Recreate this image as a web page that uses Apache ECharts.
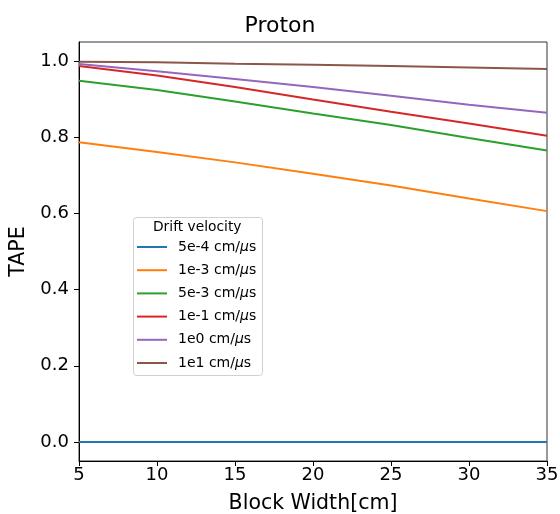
<!DOCTYPE html>
<html>
<head>
<meta charset="utf-8">
<script src="https://cdn.jsdelivr.net/npm/echarts@6/dist/echarts.min.js"></script>
<style>
  html, body { margin: 0; padding: 0; background: #fff; }
  #chart { width: 560px; height: 514px; }
</style>
</head>
<body>
<div id="chart"></div>
<script>
// Block widths in cm
const blockWidths = [5, 10, 15, 20, 25, 30, 35];

// TAPE per drift velocity
const tape5em4 = [0, 0, 0, 0, 0, 0, 0];
const tape1em3 = [0.787, 0.761, 0.734, 0.704, 0.673, 0.639, 0.606];
const tape5em3 = [0.948, 0.924, 0.894, 0.862, 0.832, 0.798, 0.765];
const tape1em1 = [0.987, 0.962, 0.932, 0.899, 0.867, 0.836, 0.804];
const tape1e0  = [0.992, 0.973, 0.953, 0.932, 0.909, 0.885, 0.864];
const tape1e1  = [0.998, 0.9966, 0.993, 0.990, 0.987, 0.983, 0.979];

const seriesNames = ['5e-4 cm/\u03bcs', '1e-3 cm/\u03bcs', '5e-3 cm/\u03bcs',
                     '1e-1 cm/\u03bcs', '1e0 cm/\u03bcs', '1e1 cm/\u03bcs'];
const seriesValues = [tape5em4, tape1em3, tape5em3, tape1em1, tape1e0, tape1e1];
const colors = ['#1f77b4', '#ff7f0e', '#2ca02c', '#d62728', '#9467bd', '#8c564b'];

const yTicks = [0, 0.2, 0.4, 0.6, 0.8, 1.0];

const font = 'DejaVu Sans';

const chart = echarts.init(document.getElementById('chart'), null, { renderer: 'canvas' });

chart.setOption({
  animation: false,
  backgroundColor: '#fff',
  color: colors,
  textStyle: { fontFamily: font },
  title: {
    text: 'Proton',
    left: 'center',
    top: 10,
    textStyle: { fontFamily: font, fontSize: 22, fontWeight: 'normal', color: '#000' }
  },
  grid: {
    left: 79, right: 13, top: 42, bottom: 53,
    outerBoundsMode: 'none',
    containLabel: false,
    show: true, borderColor: '#333', borderWidth: 1, backgroundColor: 'transparent'
  },
  xAxis: {
    type: 'value',
    min: 5, max: 35, interval: 5,
    name: 'Block Width[cm]',
    nameLocation: 'middle',
    nameGap: 32,
    nameTextStyle: { fontFamily: font, fontSize: 20.5, color: '#000' },
    axisLine: { show: true, onZero: false, lineStyle: { color: '#000', width: 1 } },
    axisTick: { show: true, length: 5, inside: false, lineStyle: { color: '#000', width: 1 } },
    axisLabel: { fontFamily: font, fontSize: 18, color: '#000', margin: 5 },
    splitLine: { show: false }
  },
  yAxis: {
    type: 'value',
    min: -0.05, max: 1.05,
    name: 'TAPE',
    nameLocation: 'middle',
    nameGap: 50,
    nameTextStyle: { fontFamily: font, fontSize: 20.5, color: '#000' },
    axisLine: { show: true, onZero: false, lineStyle: { color: '#000', width: 1 } },
    axisTick: { show: true, length: 5, inside: false, customValues: yTicks, lineStyle: { color: '#000', width: 1 } },
    axisLabel: {
      fontFamily: font, fontSize: 18, color: '#000', margin: 10,
      customValues: yTicks,
      formatter: v => v.toFixed(1)
    },
    splitLine: { show: false }
  },
  legend: {
    orient: 'vertical',
    left: 137,
    top: 240,
    padding: 0,
    itemWidth: 30,
    itemHeight: 2,
    itemGap: 9.2,
    icon: 'rect',
    // the micro sign is set in italic, like a math symbol
    formatter: name => name.replace('\u03bc', '{mu|\u03bc}'),
    textStyle: {
      fontFamily: font, fontSize: 14, color: '#000', padding: [0, 0, 0, 6],
      rich: { mu: { fontFamily: font, fontSize: 14, fontStyle: 'italic', color: '#000' } }
    },
    data: seriesNames
  },
  graphic: [
    {
      type: 'rect',
      left: 133, top: 217,
      shape: { width: 129, height: 158, r: 3 },
      style: { fill: 'rgba(255,255,255,0.8)', stroke: '#d0d0d0', lineWidth: 1 },
      z: 0
    },
    {
      type: 'text',
      left: 153, top: 220,
      style: { text: 'Drift velocity', fontFamily: font, fontSize: 13.8, fill: '#000' },
      z: 1
    }
  ],
  series: seriesNames.map((name, i) => ({
    name: name,
    type: 'line',
    data: blockWidths.map((x, j) => [x, seriesValues[i][j]]),
    showSymbol: false,
    lineStyle: { width: 2, color: colors[i] },
    itemStyle: { color: colors[i] },
    z: 2 + i
  }))
});
</script>
</body>
</html>
